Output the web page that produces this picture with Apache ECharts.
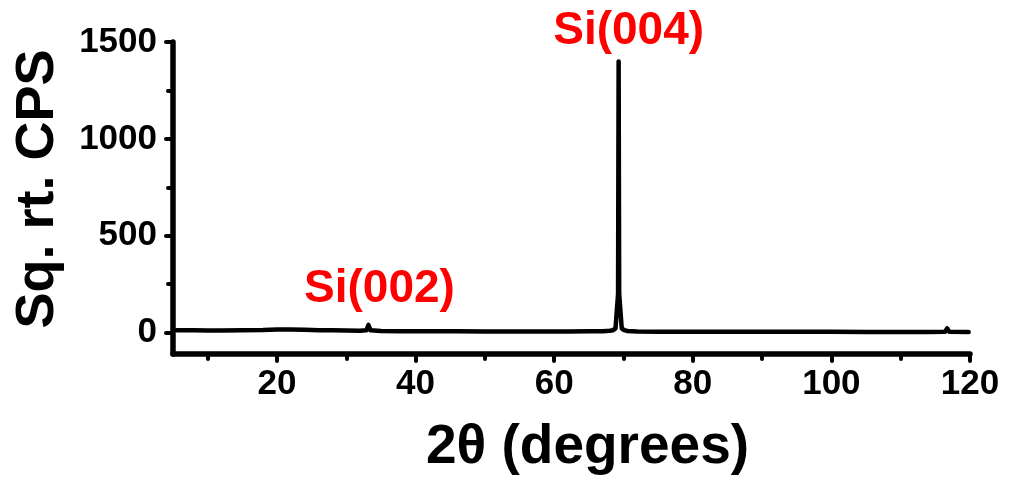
<!DOCTYPE html>
<html>
<head>
<meta charset="utf-8">
<script src="https://cdn.jsdelivr.net/npm/echarts@6/dist/echarts.min.js"></script>
<style>
html,body{margin:0;padding:0;background:#fff;}
#chart{width:1011px;height:483px;}
</style>
</head>
<body>
<div id="chart"></div>
<script>
// 2θ angles (degrees)
var angles = [5.5, 8, 10, 12, 15, 18, 20, 22, 24, 26, 28, 30, 32, 32.9, 33.2, 33.5, 35, 38, 40, 43, 46, 50, 54, 58, 62, 65, 67, 68, 68.5, 68.85, 69.22, 69.3, 69.38, 69.75, 70.1, 70.6, 72, 75, 80, 85, 90, 95, 100, 105, 110, 114, 116.4, 116.7, 117.0, 119.8];
// Sq. rt. CPS intensities
var intensity = [12, 12, 11, 11, 12, 14, 17, 17, 15, 13, 12, 11, 10, 12, 40, 12, 9, 8, 8, 7, 7, 6, 6, 6, 6, 7, 8, 10, 13, 22, 200, 1400, 200, 22, 13, 9, 6, 5, 5, 5, 5, 5, 5, 4, 4, 4, 5, 22, 5, 3];
// axis ticks
var xMajorTicks = [20, 40, 60, 80, 100, 120];
var xMinorTicks = [10, 30, 50, 70, 90, 110];
var yMajorTicks = [0, 500, 1000, 1500];
var yMinorTicks = [250, 750, 1250];
// peak annotations
var peakLabels = [
  {name: 'Si(002)', angle: 33.2, value: 40, offset: [11, -36]},
  {name: 'Si(004)', angle: 69.3, value: 1400, offset: [10, -30]}
];

var seriesData = angles.map(function (a, i) { return [a, intensity[i]]; });
var font = 'Liberation Sans, Arial, sans-serif';
var xMin = 5, xMax = 120, yMin = -110, yMax = 1500;
var plain = function (v) { return String(v); };

var chart = echarts.init(document.getElementById('chart'));
var axisLineStyle = {color: '#000', width: 5.5, cap: 'round'};
chart.setOption({
  animation: false,
  backgroundColor: '#fff',
  grid: {left: 173, right: 41, top: 42, bottom: 129},
  xAxis: [{
    type: 'value', min: xMin, max: xMax,
    name: '2θ (degrees)', nameLocation: 'middle', nameGap: 66,
    nameTextStyle: {fontFamily: font, fontWeight: 'bold', fontSize: 55, color: '#000', padding: [0, 0, 0, 32]},
    axisLine: {show: true, onZero: false, lineStyle: axisLineStyle},
    axisTick: {show: true, length: 7, inside: false, customValues: xMajorTicks, lineStyle: {color: '#000', width: 4, cap: 'round'}},
    axisLabel: {customValues: xMajorTicks, formatter: plain, fontFamily: font, fontWeight: 'bold', fontSize: 35, color: '#000', margin: 13},
    splitLine: {show: false}
  }, {
    type: 'value', min: xMin, max: xMax, position: 'bottom',
    axisLine: {show: false, onZero: false},
    axisTick: {show: true, length: 5, customValues: xMinorTicks, lineStyle: {color: '#000', width: 4, cap: 'round'}},
    axisLabel: {show: false},
    splitLine: {show: false}
  }],
  yAxis: [{
    type: 'value', min: yMin, max: yMax,
    name: 'Sq. rt. CPS', nameLocation: 'middle', nameGap: 108, nameRotate: 90,
    nameTextStyle: {fontFamily: font, fontWeight: 'bold', fontSize: 54, color: '#000', padding: [0, 0, 0, 18]},
    axisLine: {show: true, onZero: false, lineStyle: axisLineStyle},
    axisTick: {show: true, length: 7, customValues: yMajorTicks, lineStyle: {color: '#000', width: 4, cap: 'round'}},
    axisLabel: {customValues: yMajorTicks, formatter: plain, fontFamily: font, fontWeight: 'bold', fontSize: 35, color: '#000', margin: 16},
    splitLine: {show: false}
  }, {
    type: 'value', min: yMin, max: yMax, position: 'left',
    axisLine: {show: false, onZero: false},
    axisTick: {show: true, length: 5, customValues: yMinorTicks, lineStyle: {color: '#000', width: 4, cap: 'round'}},
    axisLabel: {show: false},
    splitLine: {show: false}
  }],
  series: [{
    type: 'line',
    data: seriesData,
    showSymbol: false,
    symbol: 'none',
    lineStyle: {color: '#000', width: 4.5, join: 'round', cap: 'round'},
    markPoint: {
      symbol: 'circle', symbolSize: 1,
      itemStyle: {color: 'rgba(0,0,0,0)'},
      data: peakLabels.map(function (p) {
        return {
          coord: [p.angle, p.value],
          label: {show: true, formatter: p.name, position: 'inside', offset: p.offset,
            fontFamily: font, fontWeight: 'bold', fontSize: 46, color: '#ff0000'}
        };
      })
    }
  }]
});
</script>
</body>
</html>
